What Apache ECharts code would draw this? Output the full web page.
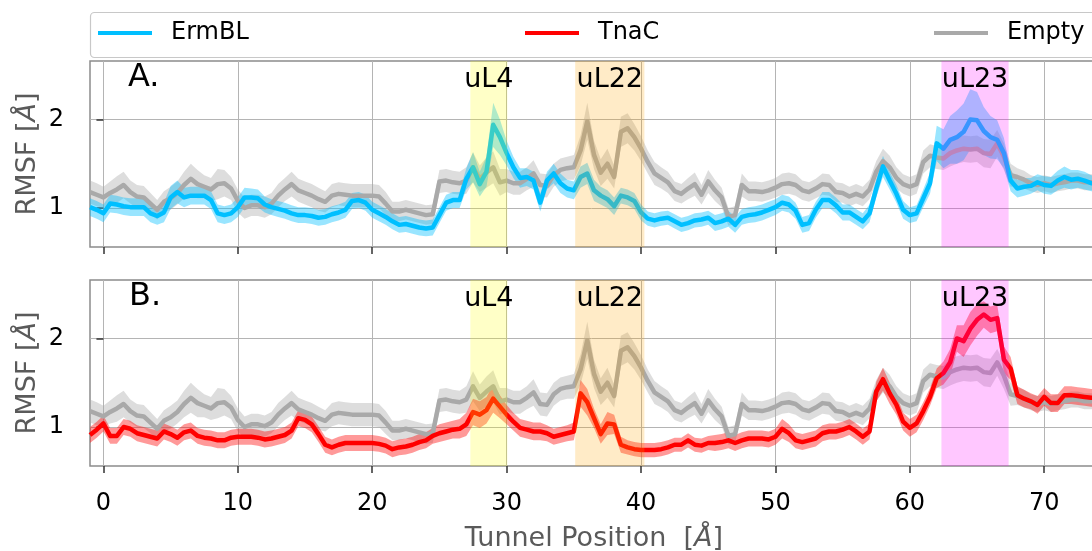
<!DOCTYPE html>
<html>
<head>
<meta charset="utf-8">
<title>RMSF along the exit tunnel</title>
<script src="https://cdn.jsdelivr.net/npm/echarts@6/dist/echarts.min.js"></script>
<style>
  html, body { margin: 0; padding: 0; background: #fff; }
  #chart { width: 1092px; height: 551px; }
</style>
</head>
<body>
<div id="chart"></div>
<script>
// tunnel position (Å)
var positions = [
  -1, -0.5, 0, 0.5, 1, 1.5, 2, 2.5, 3, 3.5,
  4, 4.5, 5, 5.5, 6, 6.5, 7, 7.5, 8, 8.5,
  9, 9.5, 10, 10.5, 11, 11.5, 12, 12.5, 13, 13.5,
  14, 14.5, 15, 15.5, 16, 16.5, 17, 17.5, 18, 18.5,
  19, 19.5, 20, 20.5, 21, 21.5, 22, 22.5, 23, 23.5,
  24, 24.5, 25, 25.5, 26, 26.5, 27, 27.5, 28, 28.5,
  29, 29.5, 30, 30.5, 31, 31.5, 32, 32.5, 33, 33.5,
  34, 34.5, 35, 35.5, 36, 36.5, 37, 37.5, 38, 38.5,
  39, 39.5, 40, 40.5, 41, 41.5, 42, 42.5, 43, 43.5,
  44, 44.5, 45, 45.5, 46, 46.5, 47, 47.5, 48, 48.5,
  49, 49.5, 50, 50.5, 51, 51.5, 52, 52.5, 53, 53.5,
  54, 54.5, 55, 55.5, 56, 56.5, 57, 57.5, 58, 58.5,
  59, 59.5, 60, 60.5, 61, 61.5, 62, 62.5, 63, 63.5,
  64, 64.5, 65, 65.5, 66, 66.5, 67, 67.5, 68, 68.5,
  69, 69.5, 70, 70.5, 71, 71.5, 72, 72.5, 73, 73.5,
  74
];

// mean RMSF and its spread for each system
var emptyMean = [
  1.18, 1.15, 1.12, 1.17, 1.21, 1.26, 1.18, 1.13, 1.12, 1.05,
  0.98, 1.07, 1.11, 1.17, 1.26, 1.33, 1.27, 1.24, 1.21, 1.27,
  1.28, 1.22, 1.08, 1.00, 1.03, 1.03, 1.01, 1.05, 1.14, 1.21,
  1.27, 1.20, 1.17, 1.14, 1.10, 1.07, 1.14, 1.16, 1.15, 1.14,
  1.14, 1.14, 1.14, 1.13, 1.05, 0.96, 0.96, 0.98, 0.96, 0.94,
  0.92, 0.93, 1.30, 1.31, 1.29, 1.28, 1.31, 1.46, 1.33, 1.40,
  1.46, 1.29, 1.31, 1.28, 1.28, 1.33, 1.39, 1.26, 1.25, 1.37,
  1.43, 1.45, 1.46, 1.65, 1.98, 1.60, 1.40, 1.50, 1.35, 1.86,
  1.90, 1.80, 1.67, 1.52, 1.39, 1.34, 1.29, 1.19, 1.16, 1.22,
  1.27, 1.15, 1.30, 1.20, 1.12, 0.90, 0.92, 1.26, 1.19, 1.19,
  1.18, 1.20, 1.23, 1.27, 1.28, 1.26, 1.20, 1.18, 1.22, 1.27,
  1.26, 1.18, 1.17, 1.13, 1.16, 1.13, 1.21, 1.41, 1.53, 1.46,
  1.34, 1.27, 1.24, 1.27, 1.52, 1.59, 1.57, 1.56, 1.62, 1.65,
  1.67, 1.66, 1.67, 1.62, 1.61, 1.73, 1.58, 1.37, 1.35, 1.32,
  1.28, 1.26, 1.28, 1.26, 1.28, 1.29, 1.31, 1.31, 1.29, 1.29,
  1.29
];
var emptySd = [
  0.13, 0.13, 0.12, 0.13, 0.15, 0.15, 0.13, 0.13, 0.13, 0.12,
  0.11, 0.12, 0.13, 0.13, 0.15, 0.17, 0.16, 0.13, 0.13, 0.17,
  0.15, 0.13, 0.13, 0.12, 0.12, 0.12, 0.12, 0.12, 0.13, 0.13,
  0.14, 0.13, 0.13, 0.13, 0.13, 0.12, 0.13, 0.13, 0.13, 0.13,
  0.13, 0.13, 0.13, 0.13, 0.13, 0.11, 0.11, 0.11, 0.11, 0.11,
  0.11, 0.11, 0.13, 0.13, 0.13, 0.13, 0.15, 0.17, 0.15, 0.17,
  0.18, 0.15, 0.13, 0.13, 0.13, 0.13, 0.15, 0.13, 0.13, 0.13,
  0.13, 0.13, 0.14, 0.17, 0.21, 0.16, 0.15, 0.17, 0.13, 0.17,
  0.17, 0.15, 0.14, 0.13, 0.13, 0.12, 0.12, 0.11, 0.11, 0.12,
  0.13, 0.11, 0.13, 0.12, 0.11, 0.10, 0.10, 0.13, 0.11, 0.11,
  0.11, 0.11, 0.11, 0.12, 0.12, 0.12, 0.11, 0.11, 0.11, 0.12,
  0.12, 0.11, 0.11, 0.11, 0.11, 0.11, 0.11, 0.12, 0.14, 0.13,
  0.12, 0.11, 0.11, 0.11, 0.13, 0.13, 0.13, 0.13, 0.15, 0.15,
  0.15, 0.15, 0.15, 0.16, 0.16, 0.15, 0.15, 0.13, 0.10, 0.10,
  0.09, 0.09, 0.09, 0.09, 0.09, 0.09, 0.09, 0.09, 0.09, 0.09,
  0.09
];
var ermblMean = [
  1.01, 0.98, 0.94, 1.05, 1.04, 1.02, 1.01, 1.01, 1.01, 0.94,
  0.91, 0.95, 1.12, 1.18, 1.12, 1.14, 1.14, 1.14, 1.09, 0.94,
  0.92, 0.94, 1.01, 1.12, 1.12, 1.11, 1.04, 1.01, 0.99, 0.97,
  0.94, 0.92, 0.92, 0.91, 0.89, 0.90, 0.93, 0.95, 0.98, 1.08,
  1.09, 1.06, 0.98, 0.94, 0.90, 0.85, 0.81, 0.82, 0.80, 0.78,
  0.77, 0.78, 0.92, 1.06, 1.09, 1.09, 1.33, 1.46, 1.27, 1.41,
  1.94, 1.80, 1.62, 1.46, 1.34, 1.35, 1.31, 1.06, 1.31, 1.39,
  1.28, 1.22, 1.20, 1.35, 1.39, 1.20, 1.14, 1.10, 1.02, 1.14,
  1.12, 1.08, 0.95, 0.88, 0.86, 0.88, 0.89, 0.85, 0.81, 0.83,
  0.86, 0.87, 0.89, 0.83, 0.85, 0.88, 0.81, 0.90, 0.92, 0.93,
  0.95, 0.98, 1.01, 1.06, 1.04, 0.97, 0.81, 0.83, 0.98, 1.09,
  1.09, 1.03, 0.95, 0.95, 0.90, 0.85, 0.94, 1.22, 1.47, 1.31,
  1.16, 0.98, 0.92, 0.94, 1.11, 1.28, 1.73, 1.67, 1.77, 1.80,
  1.86, 2.00, 1.99, 1.87, 1.80, 1.77, 1.62, 1.31, 1.22, 1.24,
  1.25, 1.29, 1.26, 1.25, 1.31, 1.35, 1.32, 1.33, 1.31, 1.28,
  1.28
];
var ermblSd = [
  0.10, 0.10, 0.10, 0.10, 0.10, 0.10, 0.10, 0.10, 0.10, 0.10,
  0.10, 0.11, 0.13, 0.13, 0.11, 0.10, 0.10, 0.10, 0.10, 0.10,
  0.10, 0.10, 0.11, 0.11, 0.10, 0.10, 0.09, 0.09, 0.09, 0.09,
  0.09, 0.09, 0.09, 0.09, 0.09, 0.09, 0.09, 0.09, 0.09, 0.09,
  0.09, 0.09, 0.09, 0.09, 0.09, 0.09, 0.09, 0.09, 0.09, 0.09,
  0.09, 0.09, 0.09, 0.09, 0.09, 0.09, 0.12, 0.17, 0.14, 0.17,
  0.25, 0.20, 0.14, 0.12, 0.11, 0.10, 0.10, 0.10, 0.10, 0.11,
  0.11, 0.10, 0.10, 0.12, 0.12, 0.12, 0.10, 0.10, 0.10, 0.09,
  0.09, 0.09, 0.09, 0.08, 0.08, 0.08, 0.08, 0.08, 0.08, 0.08,
  0.08, 0.08, 0.08, 0.09, 0.09, 0.09, 0.09, 0.09, 0.09, 0.09,
  0.09, 0.09, 0.09, 0.09, 0.09, 0.09, 0.09, 0.09, 0.09, 0.09,
  0.09, 0.09, 0.09, 0.09, 0.09, 0.09, 0.10, 0.10, 0.12, 0.10,
  0.10, 0.10, 0.09, 0.09, 0.10, 0.12, 0.20, 0.22, 0.27, 0.30,
  0.32, 0.34, 0.32, 0.27, 0.24, 0.22, 0.17, 0.12, 0.10, 0.10,
  0.09, 0.09, 0.10, 0.10, 0.11, 0.12, 0.11, 0.10, 0.10, 0.09,
  0.09
];
var tnacMean = [
  0.91, 0.97, 1.04, 0.90, 0.90, 1.00, 0.98, 0.93, 0.91, 0.89,
  0.87, 0.95, 0.92, 0.88, 0.94, 0.96, 0.90, 0.88, 0.87, 0.85,
  0.85, 0.88, 0.89, 0.89, 0.89, 0.88, 0.86, 0.87, 0.89, 0.91,
  0.96, 1.10, 1.08, 1.03, 0.92, 0.80, 0.77, 0.80, 0.82, 0.82,
  0.82, 0.82, 0.82, 0.81, 0.79, 0.75, 0.77, 0.78, 0.80, 0.83,
  0.85, 0.90, 0.93, 0.95, 0.97, 0.98, 1.03, 1.17, 1.14, 1.19,
  1.32, 1.23, 1.14, 1.06, 0.99, 0.97, 0.95, 0.95, 0.93, 0.89,
  0.91, 0.93, 0.95, 1.38, 1.28, 1.10, 0.92, 1.04, 1.03, 0.80,
  0.77, 0.75, 0.74, 0.74, 0.74, 0.75, 0.77, 0.80, 0.80, 0.85,
  0.80, 0.79, 0.82, 0.82, 0.83, 0.85, 0.82, 0.85, 0.87, 0.87,
  0.87, 0.86, 0.89, 0.98, 0.93, 0.85, 0.83, 0.85, 0.87, 0.93,
  0.95, 0.95, 0.97, 1.00, 0.95, 0.89, 0.95, 1.40, 1.54, 1.38,
  1.25, 1.06, 0.99, 1.04, 1.18, 1.34, 1.55, 1.61, 1.73, 2.00,
  1.97, 2.11, 2.21, 2.27, 2.21, 2.23, 1.76, 1.66, 1.36, 1.32,
  1.29, 1.25, 1.34, 1.27, 1.27, 1.36, 1.36, 1.35, 1.34, 1.33,
  1.33
];
var tnacSd = [
  0.09, 0.09, 0.09, 0.09, 0.09, 0.09, 0.09, 0.09, 0.09, 0.09,
  0.09, 0.09, 0.09, 0.09, 0.09, 0.09, 0.09, 0.09, 0.09, 0.09,
  0.09, 0.09, 0.09, 0.09, 0.09, 0.09, 0.09, 0.09, 0.09, 0.09,
  0.09, 0.09, 0.09, 0.09, 0.09, 0.09, 0.09, 0.09, 0.09, 0.09,
  0.09, 0.09, 0.09, 0.09, 0.09, 0.09, 0.09, 0.09, 0.09, 0.09,
  0.09, 0.09, 0.10, 0.10, 0.10, 0.11, 0.13, 0.15, 0.15, 0.15,
  0.16, 0.13, 0.11, 0.10, 0.10, 0.10, 0.10, 0.10, 0.09, 0.09,
  0.09, 0.09, 0.10, 0.15, 0.15, 0.11, 0.11, 0.13, 0.11, 0.09,
  0.08, 0.08, 0.08, 0.08, 0.08, 0.08, 0.08, 0.08, 0.08, 0.08,
  0.08, 0.08, 0.08, 0.09, 0.09, 0.09, 0.09, 0.09, 0.09, 0.09,
  0.09, 0.09, 0.09, 0.11, 0.10, 0.09, 0.09, 0.09, 0.09, 0.09,
  0.09, 0.09, 0.09, 0.09, 0.09, 0.09, 0.09, 0.11, 0.13, 0.12,
  0.11, 0.10, 0.10, 0.10, 0.10, 0.10, 0.11, 0.13, 0.15, 0.15,
  0.18, 0.19, 0.18, 0.15, 0.15, 0.15, 0.15, 0.13, 0.10, 0.10,
  0.09, 0.10, 0.10, 0.10, 0.10, 0.10, 0.10, 0.10, 0.10, 0.10,
  0.10
];

// protein regions lining the tunnel
var regionNames = ['uL4', 'uL22', 'uL23'];
var regionStart = [27.3, 35.1, 62.35];
var regionEnd = [30.05, 40.25, 67.35];

var xTicks = [0, 10, 20, 30, 40, 50, 60, 70];
var yTicks = [1, 2];

var FONT = '"DejaVu Sans", "Liberation Sans", sans-serif';
var regionColors = ['rgba(255,255,0,0.22)', 'rgba(255,165,0,0.22)', 'rgba(255,0,255,0.22)'];

function pairs(vals) {
    return positions.map(function (x, i) { return [x, vals[i]]; });
}

// shaded mean +/- spread, drawn as one polygon through the axis scales
function spreadSeries(p, mean, sd, fill) {
    return {
        type: 'custom', xAxisIndex: p, yAxisIndex: p, silent: true, clip: true,
        data: positions.map(function (x, i) { return [x, mean[i] - sd[i], mean[i] + sd[i]]; }),
        encode: { x: 0, y: [1, 2] },
        renderItem: function (params, api) {
            if (params.dataIndex !== 0) return null;
            var upper = [], lower = [];
            for (var i = 0; i < positions.length; i++) {
                upper.push(api.coord([positions[i], mean[i] + sd[i]]));
                lower.unshift(api.coord([positions[i], mean[i] - sd[i]]));
            }
            return {
                type: 'polygon',
                shape: { points: upper.concat(lower) },
                style: { fill: fill }
            };
        }
    };
}

function lineSeries(p, name, mean, color) {
    return {
        type: 'line', name: name, xAxisIndex: p, yAxisIndex: p,
        data: pairs(mean), symbol: 'none', silent: true, color: color,
        lineStyle: { color: color, width: 4.5, join: 'round' }, itemStyle: { color: color }
    };
}

function regionSeries(p) {
    return {
        type: 'custom', xAxisIndex: p, yAxisIndex: p, z: 10, silent: true,
        data: regionStart.map(function (s, i) { return [s, regionEnd[i]]; }),
        renderItem: function (params, api) {
            var cs = params.coordSys;
            var x0 = api.coord([api.value(0), 1])[0];
            var x1 = api.coord([api.value(1), 1])[0];
            return {
                type: 'group',
                children: [{
                    type: 'rect',
                    shape: { x: x0, y: cs.y, width: x1 - x0, height: cs.height },
                    style: { fill: regionColors[params.dataIndex] }
                }, {
                    type: 'text', x: (x0 + x1) / 2, y: cs.y + 19,
                    style: {
                        text: regionNames[params.dataIndex], fill: '#000',
                        font: '27px ' + FONT, align: 'center', verticalAlign: 'middle'
                    }
                }]
            };
        }
    };
}

var series = [
    spreadSeries(0, emptyMean, emptySd, 'rgba(169,169,169,0.4)'),
    spreadSeries(0, ermblMean, ermblSd, 'rgba(0,191,255,0.4)'),
    lineSeries(0, 'Empty', emptyMean, '#a9a9a9'),
    lineSeries(0, 'ErmBL', ermblMean, '#00bfff'),
    regionSeries(0),
    spreadSeries(1, emptyMean, emptySd, 'rgba(169,169,169,0.4)'),
    spreadSeries(1, tnacMean, tnacSd, 'rgba(255,0,0,0.4)'),
    lineSeries(1, 'Empty', emptyMean, '#a9a9a9'),
    lineSeries(1, 'TnaC', tnacMean, '#ff0000'),
    regionSeries(1)
];

var nameStyle = {
    fontSize: 27, color: '#5a5a5a', fontFamily: FONT,
    rich: { i: { fontSize: 27, color: '#5a5a5a', fontFamily: FONT, fontStyle: 'italic' } }
};
var tickStyle = { color: '#333', width: 1.5 };

function legendItem(name, left) {
    return {
        data: [name], left: left, top: 21, padding: 0, selectedMode: false,
        icon: 'rect', itemWidth: 54, itemHeight: 4,
        textStyle: { fontSize: 24, color: '#000', fontFamily: FONT, padding: [0, 0, 0, 14] }
    };
}

var chart = echarts.init(document.getElementById('chart'));
chart.setOption({
    animation: false,
    backgroundColor: '#fff',
    textStyle: { fontFamily: FONT },
    grid: [
        { left: 90, top: 61, width: 1008, height: 186, show: true, borderColor: '#8c8c8c', borderWidth: 1.5, backgroundColor: 'transparent', containLabel: false, outerBoundsMode: 'none' },
        { left: 90, top: 280, width: 1008, height: 186, show: true, borderColor: '#8c8c8c', borderWidth: 1.5, backgroundColor: 'transparent', containLabel: false, outerBoundsMode: 'none' }
    ],
    legend: [legendItem('ErmBL', 98), legendItem('TnaC', 525), legendItem('Empty', 934)],
    graphic: [
        { type: 'rect', z: 0, shape: { x: 90.5, y: 12.5, width: 1010, height: 45, r: 4 }, style: { fill: '#fff', stroke: '#c8c8c8', lineWidth: 1.2 } },
        { type: 'text', z: 20, x: 128, y: 78, style: { text: 'A.', font: '32px ' + FONT, fill: '#000', align: 'left', verticalAlign: 'middle' } },
        { type: 'text', z: 20, x: 129, y: 297, style: { text: 'B.', font: '32px ' + FONT, fill: '#000', align: 'left', verticalAlign: 'middle' } }
    ],
    xAxis: [0, 1].map(function (p) {
        return {
            type: 'value', gridIndex: p, min: -1, max: 74,
            splitNumber: 8, minInterval: 10, maxInterval: 10,
            axisLine: { show: false },
            axisTick: { show: true, length: 7, customValues: xTicks, lineStyle: tickStyle },
            axisLabel: { show: p === 1, customValues: xTicks, fontSize: 24, color: '#000', margin: 26, fontFamily: FONT },
            splitLine: { show: true, lineStyle: { color: '#b4b4b4', width: 1 } },
            name: p === 1 ? 'Tunnel Position  [{i|Å}]' : '',
            nameLocation: 'middle', nameGap: 59, nameTextStyle: nameStyle, nameMoveOverlap: false
        };
    }),
    yAxis: [0, 1].map(function (p) {
        return {
            type: 'value', gridIndex: p, min: 0.56, max: 2.66,
            minInterval: 1, maxInterval: 1,
            axisLine: { show: false },
            axisTick: { show: true, length: 7, customValues: yTicks, lineStyle: tickStyle },
            axisLabel: { customValues: yTicks, fontSize: 24, color: '#000', margin: 26, fontFamily: FONT },
            splitLine: { show: true, lineStyle: { color: '#b4b4b4', width: 1 } },
            name: 'RMSF [{i|Å}]', nameLocation: 'middle', nameGap: 49,
            nameTextStyle: nameStyle, nameMoveOverlap: false
        };
    }),
    series: series
});
</script>
</body>
</html>
